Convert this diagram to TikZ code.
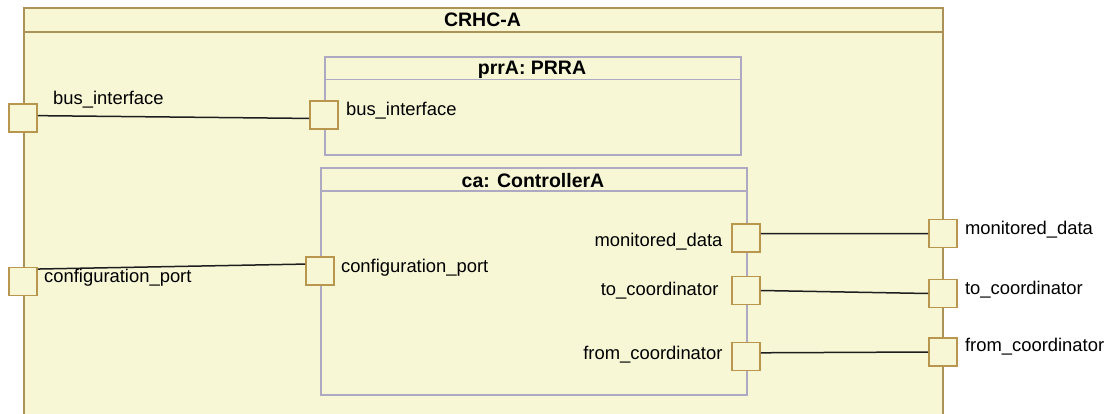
\documentclass[tikz,border=0pt]{standalone}
\usepackage{fontspec}
\setmainfont{Liberation Sans}
\usepackage{xcolor}
\usepackage{tikz}
\usetikzlibrary{positioning}
\definecolor{crhcfill}{HTML}{F7F7D6}
\definecolor{compline}{HTML}{AD9257}
\definecolor{partline}{HTML}{ADA9C2}
\definecolor{portline}{HTML}{B8964E}
\definecolor{connline}{HTML}{1E1E1E}

\begin{document}
\begin{tikzpicture}[x=1pt,y=-1pt,every node/.style={font=\fontsize{18.4}{21}\selectfont},
  comp/.style={draw=compline,fill=crhcfill,line width=1.7pt,inner sep=0pt},
  part/.style={draw=partline,fill=crhcfill,line width=1.7pt,inner sep=0pt},
  ttl/.style={font=\fontsize{19.5}{22}\selectfont\bfseries,inner sep=0pt,text height=14pt,text depth=0pt},
  port/.style={draw=portline,fill=crhcfill,line width=1.7pt,minimum size=28pt,inner sep=0pt},
  lbl/.style={inner sep=0pt,text height=13pt,text depth=4pt},
  conn/.style={draw=connline,line width=1.5pt}]
\clip (0,0) rectangle (1107,414);
% outer component
\node[comp,anchor=north west,minimum width=919pt,minimum height=430pt] (crhc) at (23,7) {};
\draw[compline,line width=1.7pt] ([yshift=-25pt]crhc.north west) -- ([yshift=-25pt]crhc.north east);
\node[ttl] (crhcname) at (482.5,20) {CRHC-A};
% parts
\node[part,anchor=north west,minimum width=416pt,minimum height=98.5pt] (prra) at (324,56) {};
\draw[partline,line width=1.7pt] ([yshift=-23.5pt]prra.north west) -- ([yshift=-23.5pt]prra.north east);
\node[ttl] (prraname) at (532,68) {prrA: PRRA};
\node[part,anchor=north west,minimum width=426pt,minimum height=227pt] (ca) at (320,167) {};
\draw[partline,line width=1.7pt] ([yshift=-24pt]ca.north west) -- ([yshift=-24pt]ca.north east);
\node[ttl] (caname) at (533,180) {ca: ControllerA};
% ports
\node[port] (busout) at (23,118) {};
\node[port] (busin) at (324,115) {};
\node[port] (cfgout) at (23,281.5) {};
\node[port] (cfgin) at (320,271) {};
\node[port] (monin) at (746,238) {};
\node[port] (toin) at (746,290.5) {};
\node[port] (fromin) at (746,356.5) {};
\node[port] (monout) at (943,233.5) {};
\node[port] (toout) at (943,293.5) {};
\node[port] (fromout) at (943,352) {};
% connectors
\draw[conn] (busout.9) -- (busin.193);
\draw[conn] (cfgout.40) -- (cfgin.155);
\draw[conn] (monin.16) -- (monout.west);
\draw[conn] (toin.east) -- (toout.west);
\draw[conn] (fromin.14) -- (fromout.west);
% port labels
\node[lbl,anchor=west] (busoutlbl) at (53,100.5) {bus\_interface};
\node[lbl,right=7pt of busin,yshift=4pt] (businlbl) {bus\_interface};
\node[lbl,anchor=west] (cfgoutlbl) at (44,277.7) {configuration\_port};
\node[lbl,right=6pt of cfgin,yshift=3pt] (cfginlbl) {configuration\_port};
\node[lbl,left=8.5pt of monin,yshift=-4pt] (moninlbl) {monitored\_data};
\node[lbl,left=12.5pt of toin] (toinlbl) {to\_coordinator};
\node[lbl,left=8.5pt of fromin,yshift=1.5pt] (frominlbl) {from\_coordinator};
\node[lbl,right=7pt of monout,yshift=3.5pt] (monoutlbl) {monitored\_data};
\node[lbl,right=7pt of toout,yshift=4pt] (tooutlbl) {to\_coordinator};
\node[lbl,right=7pt of fromout,yshift=5pt] (fromoutlbl) {from\_coordinator};
\end{tikzpicture}
\end{document}
